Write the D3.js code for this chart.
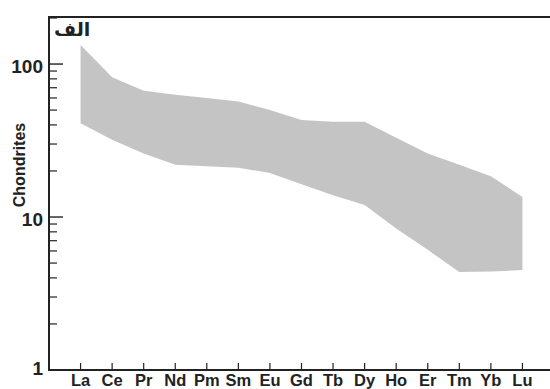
<!DOCTYPE html>
<html>
<head>
<meta charset="utf-8">
<script src="https://cdn.jsdelivr.net/npm/d3@7"></script>
<style>
  body { margin: 0; background: #fff; }
  text { font-family: "Liberation Sans", Arial, sans-serif; font-weight: bold; fill: #222; }
</style>
</head>
<body>
<div id="chart"></div>
<script>
// REE names along the x axis
const elements = ["La","Ce","Pr","Nd","Pm","Sm","Eu","Gd","Tb","Dy","Ho","Er","Tm","Yb","Lu"];
// upper and lower edge of the shaded field (chondrite normalised)
const upperVals = [133, 82, 67, 63, 60, 57, 50, 43, 42, 42, 33, 26, 22, 18.5, 13.5];
const lowerVals = [41, 32, 26, 22, 21.5, 21, 19.4, 16.4, 13.9, 12, 8.4, 6.1, 4.37, 4.4, 4.5];
const yTicks = [1, 10, 100];

const width = 550, height = 389;
const svg = d3.select("#chart").append("svg")
  .attr("width", width)
  .attr("height", height);

const plotLeft = 49, plotTop = 17, plotBottom = 370;

const x = d3.scaleLinear().domain([-1, 15]).range([plotLeft, 554]);
const y = d3.scaleLog().domain([1, 203]).range([plotBottom, plotTop]);

// shaded field
const area = d3.area()
  .x((d, i) => x(i))
  .y0((d, i) => y(lowerVals[i]))
  .y1((d, i) => y(upperVals[i]));

svg.append("path")
  .datum(elements)
  .attr("d", area)
  .attr("fill", "#c4c4c4");

// frame: top, left, bottom
svg.append("line").attr("x1", plotLeft).attr("x2", width).attr("y1", plotTop).attr("y2", plotTop)
  .attr("stroke", "#222").attr("stroke-width", 2);
svg.append("line").attr("x1", plotLeft).attr("x2", plotLeft).attr("y1", plotTop - 1).attr("y2", plotBottom + 1)
  .attr("stroke", "#222").attr("stroke-width", 2);
svg.append("line").attr("x1", plotLeft).attr("x2", width).attr("y1", plotBottom).attr("y2", plotBottom)
  .attr("stroke", "#222").attr("stroke-width", 2);

// y ticks, minor and major, pointing inward
const minor = [];
[1, 10, 100].forEach(dec => {
  for (let k = 2; k <= 9; k++) {
    if (dec * k <= 203) minor.push(dec * k);
  }
});
svg.append("g").selectAll("line.minor")
  .data(minor).enter().append("line")
  .attr("x1", plotLeft).attr("x2", plotLeft + 8)
  .attr("y1", d => y(d)).attr("y2", d => y(d))
  .attr("stroke", "#222").attr("stroke-width", 1.2);
svg.append("g").selectAll("line.major")
  .data(yTicks.slice(1)).enter().append("line")
  .attr("x1", plotLeft).attr("x2", plotLeft + 14)
  .attr("y1", d => y(d)).attr("y2", d => y(d))
  .attr("stroke", "#222").attr("stroke-width", 1.4);

svg.append("g").selectAll("text")
  .data(yTicks).enter().append("text")
  .attr("x", plotLeft - 6)
  .attr("y", d => d === 1 ? y(d) - 2 : y(d) + 2)
  .attr("dy", "0.36em")
  .attr("text-anchor", "end")
  .style("font-size", "19px")
  .text(d => d);

// x ticks
svg.append("g").selectAll("line")
  .data(elements).enter().append("line")
  .attr("x1", (d, i) => x(i)).attr("x2", (d, i) => x(i))
  .attr("y1", plotBottom).attr("y2", plotBottom - 7)
  .attr("stroke", "#222").attr("stroke-width", 1.2);

svg.append("g").selectAll("text")
  .data(elements).enter().append("text")
  .attr("x", (d, i) => x(i))
  .attr("y", 386)
  .attr("text-anchor", "middle")
  .style("font-size", "16.5px")
  .text(d => d);

// axis title
svg.append("text")
  .attr("transform", "translate(25," + 165 + ") rotate(-90)")
  .attr("text-anchor", "middle")
  .style("font-size", "16px")
  .text("Chondrites");

// panel label
svg.append("text")
  .attr("x", 54)
  .attr("y", 36)
  .attr("text-anchor", "start")
  .style("font-family", "'DejaVu Sans', sans-serif")
  .style("font-size", "19px")
  .text("الف");
</script>
</body>
</html>
